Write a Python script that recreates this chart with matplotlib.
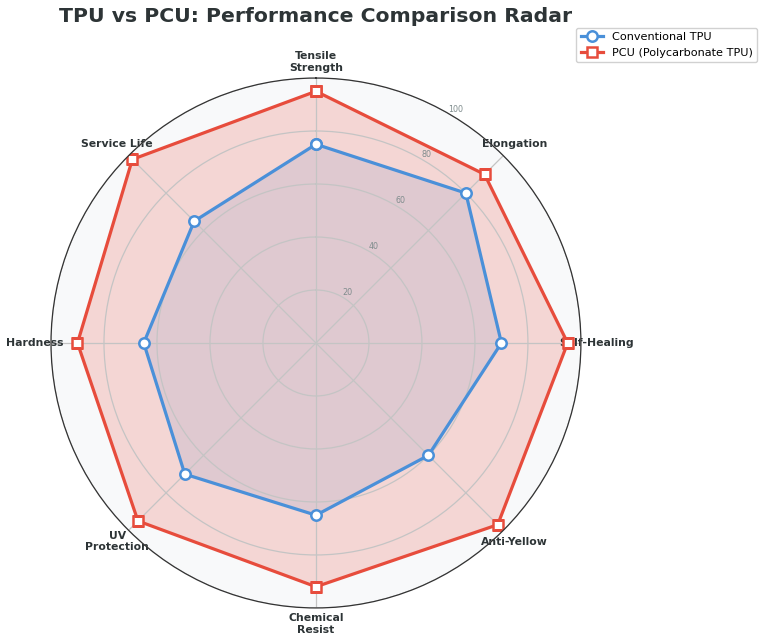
import numpy as np
import matplotlib
matplotlib.use('Agg')
from matplotlib import pyplot as plt

# Radar chart: conventional TPU vs PCU
categories = ['Tensile\nStrength', 'Elongation', 'Self-Healing', 'Anti-Yellow',
              'Chemical\nResist', 'UV\nProtection', 'Hardness', 'Service Life']
tpu_values = [75, 80, 70, 60, 65, 70, 65, 65]
pcu_values = [95, 90, 95, 97, 92, 95, 90, 98]
r_ticks = [20, 40, 60, 80, 100]

blue = '#4a90d9'
red = '#e74c3c'
dark = '#2d3436'

n = len(categories)
angles = np.linspace(0, 2 * np.pi, n, endpoint=False).tolist()
angles += angles[:1]
tpu = tpu_values + tpu_values[:1]
pcu = pcu_values + pcu_values[:1]

fig = plt.figure(figsize=(7.68, 6.42), dpi=100)
ax = fig.add_axes([0.0664, 0.053, 0.690, 0.8255], polar=True)
ax.set_facecolor('#f8f9fa')
ax.set_theta_offset(np.pi / 2)
ax.set_theta_direction(-1)
ax.set_axisbelow(False)

ax.fill(angles, tpu, color=blue, alpha=0.15, zorder=1)
ax.fill(angles, pcu, color=red, alpha=0.2, zorder=1.5)
ax.plot(angles, tpu, color=blue, linewidth=2.3, marker='o', markersize=7.5,
        markerfacecolor='white', markeredgewidth=1.8, label='Conventional TPU', zorder=4)
ax.plot(angles, pcu, color=red, linewidth=2.3, marker='s', markersize=7.5,
        markerfacecolor='white', markeredgewidth=1.8, label='PCU (Polycarbonate TPU)', zorder=4)

ax.set_xticks(angles[:-1])
ax.set_xticklabels(categories, fontsize=7.8, fontweight='bold', color=dark)
ax.tick_params(axis='x', pad=1)
ax.set_ylim(0, 100)
ax.set_yticks(r_ticks)
ax.set_yticklabels([str(t) for t in r_ticks], fontsize=5.8, color='#7f8c8d')
ax.set_rlabel_position(30)
ax.grid(color='#c4c4c4', linewidth=0.9)
ax.spines['polar'].set_color('#333333')
ax.spines['polar'].set_linewidth(0.9)
ax.spines['polar'].set_zorder(5)

fig.text(316 / 768, 1 - 17 / 642, 'TPU vs PCU: Performance Comparison Radar',
         ha='center', va='center', fontsize=14.7, fontweight='bold', color=dark)
fig.legend(loc='upper right', bbox_to_anchor=(763 / 768, 1 - 22 / 642),
           fontsize=8.1, framealpha=0.9)

plt.savefig('out.png', dpi=100)
